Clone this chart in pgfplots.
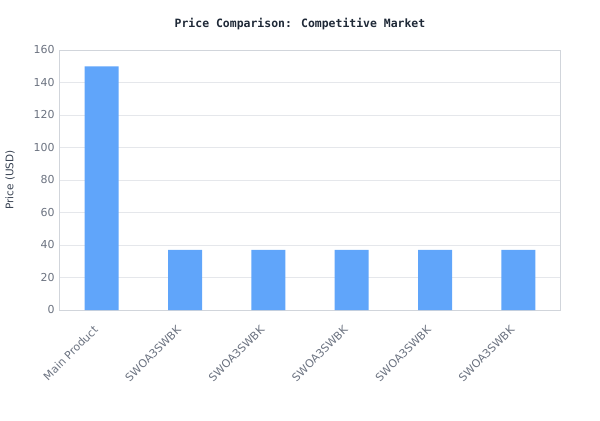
\documentclass[border=0pt]{standalone}
\usepackage{fontspec}
\setmainfont{DejaVu Sans}
\newfontfamily\titlefont{DejaVu Sans Mono}
\usepackage{pgfplots}
\pgfplotsset{compat=1.18}
\definecolor{barblue}{HTML}{60A5FA}
\definecolor{gridgrey}{HTML}{E5E7EB}
\definecolor{framegrey}{HTML}{D1D5DB}
\definecolor{ticktext}{HTML}{6B7280}
\definecolor{labeltext}{HTML}{374151}
\definecolor{titletext}{HTML}{1F2937}

\begin{document}
\begin{tikzpicture}[x=1bp,y=1bp]
\path[use as bounding box] (-60,-110) rectangle (540,310);
\begin{axis}[
    at={(0,0)}, anchor=south west,
    scale only axis,
    width=500bp, height=260bp,
    ybar, bar width=34bp,
    xmin=-0.5, xmax=5.5,
    ymin=0, ymax=160,
    ytick={0,20,...,160},
    xtick={0,...,5},
    xticklabels={Main Product,SWOA3SWBK,SWOA3SWBK,SWOA3SWBK,SWOA3SWBK,SWOA3SWBK},
    major tick length=0pt,
    ymajorgrids,
    grid style={gridgrey, line width=0.8bp},
    axis line style={framegrey, line width=1bp},
    /pgf/number format/assume math mode=true,
    tick label style={font=\fontsize{11}{13}\selectfont, text=ticktext},
    yticklabel style={xshift=-2bp},
    xticklabel style={xshift=-9bp, yshift=-10bp, rotate=45, anchor=north east},
    ylabel={Price (USD)},
    every axis y label/.style={at={(axis description cs:-0.1,0.5)}, rotate=90, anchor=center,
        font=\fontsize{10.5}{12}\selectfont, text=labeltext},
    title={\titlefont\bfseries Price Comparison: Competitive Market},
    title style={font=\fontsize{11.5}{13}\selectfont, text=titletext, at={(axis description cs:0.48,1)}, anchor=center, yshift=20bp},
]
\addplot[fill=barblue, draw=none] coordinates {
(0,150) (1,37) (2,37) (3,37) (4,37) (5,37)
};
\end{axis}
\end{tikzpicture}
\end{document}
